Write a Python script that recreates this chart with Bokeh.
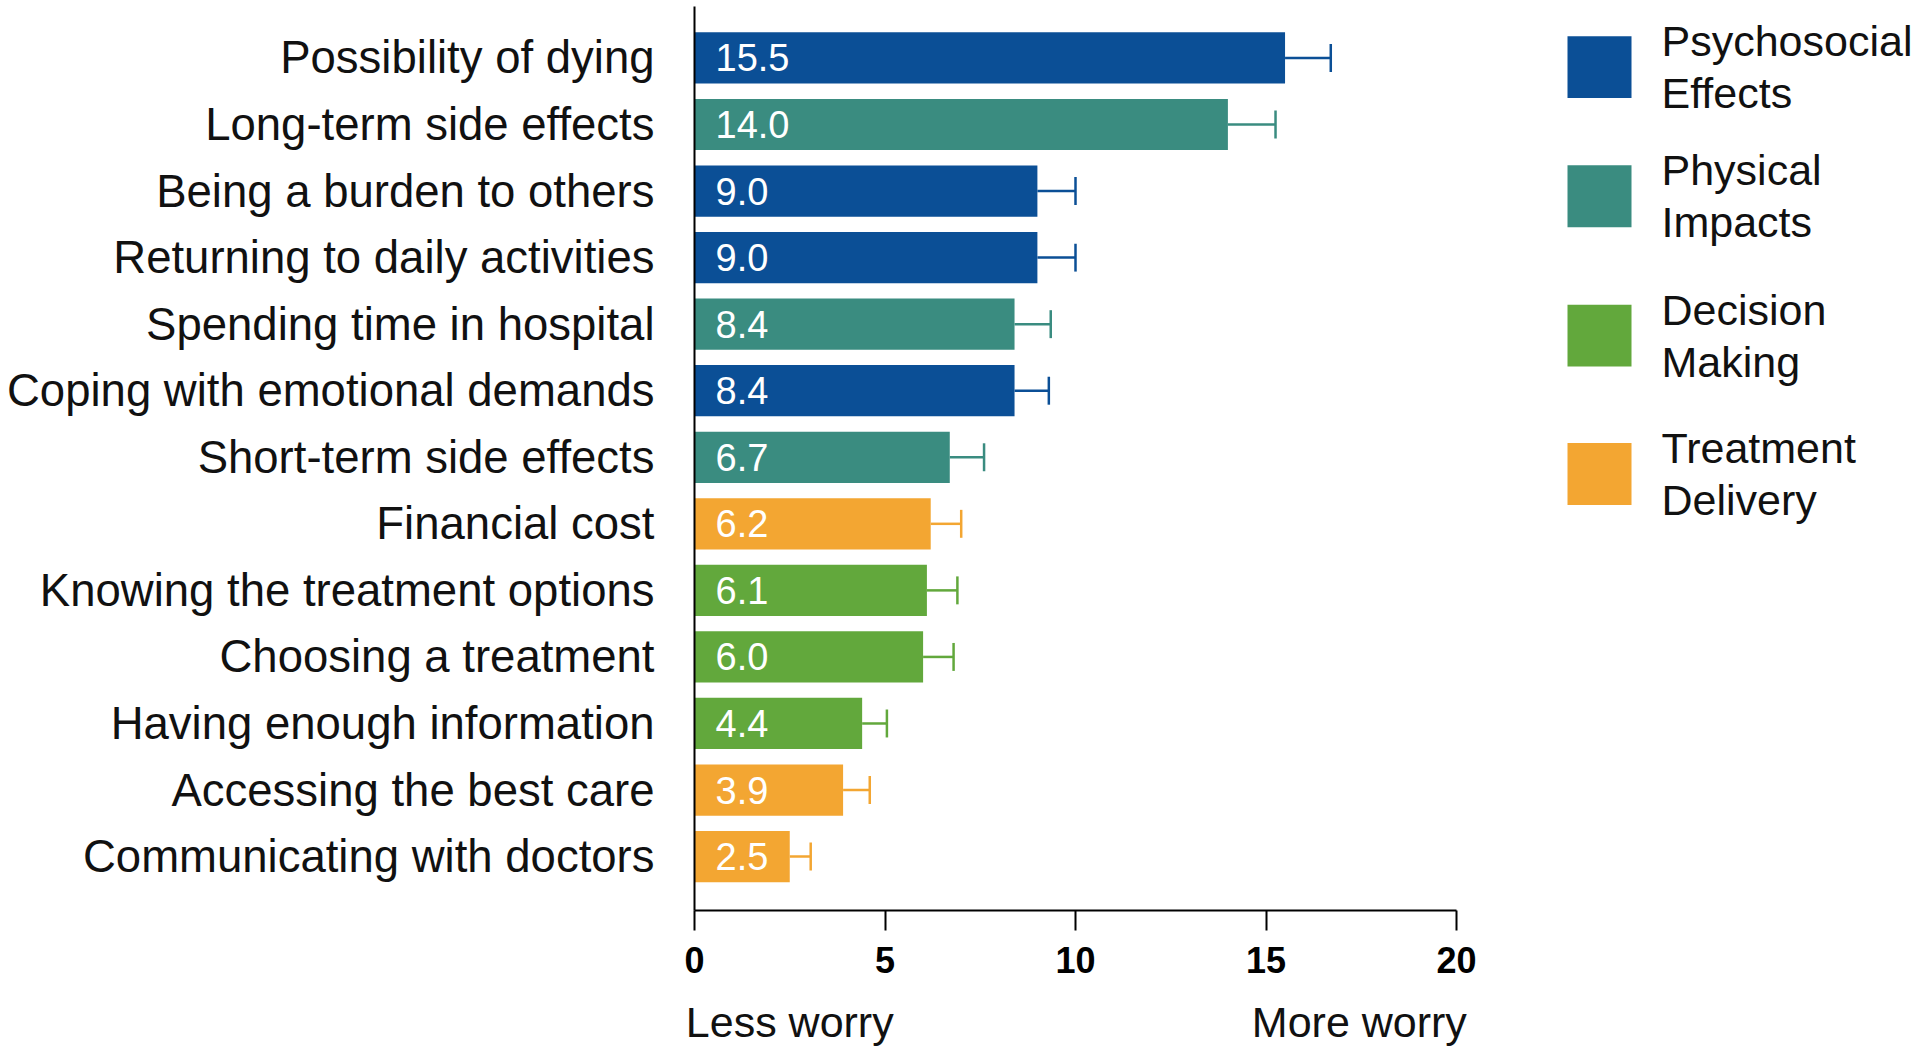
from bokeh.plotting import figure
from bokeh.models import Range1d, FixedTicker, LinearAxis, ColumnDataSource
from bokeh.layouts import row
from bokeh.embed import file_html
from bokeh.resources import INLINE
from bokeh.core.properties import value

categories = [
    "Possibility of dying", "Long-term side effects", "Being a burden to others",
    "Returning to daily activities", "Spending time in hospital",
    "Coping with emotional demands", "Short-term side effects", "Financial cost",
    "Knowing the treatment options", "Choosing a treatment",
    "Having enough information", "Accessing the best care", "Communicating with doctors",
]
values = [15.5, 14.0, 9.0, 9.0, 8.4, 8.4, 6.7, 6.2, 6.1, 6.0, 4.4, 3.9, 2.5]
errors = [1.2, 1.25, 1.0, 1.0, 0.95, 0.9, 0.9, 0.8, 0.8, 0.8, 0.65, 0.7, 0.55]
cat_group = ["Psychosocial Effects", "Physical Impacts", "Psychosocial Effects",
             "Psychosocial Effects", "Physical Impacts", "Psychosocial Effects",
             "Physical Impacts", "Treatment Delivery", "Decision Making",
             "Decision Making", "Decision Making", "Treatment Delivery", "Treatment Delivery"]
groups = ["Psychosocial Effects", "Physical Impacts", "Decision Making", "Treatment Delivery"]
group_colors = ["#0b4f96", "#3a8c80", "#62a83c", "#f3a632"]
x_ticks = [0, 5, 10, 15, 20]
end_labels = ["Less worry", "More worry"]
end_label_pos = [2.5, 17.45]

FONT = "Liberation Sans"
cmap = dict(zip(groups, group_colors))
n = len(categories)
ys = list(range(n))
cols = [cmap[g] for g in cat_group]

src = ColumnDataSource(dict(
    y=ys, v=values, e=[v + e for v, e in zip(values, errors)],
    c=cols, lab=[f"{v:.1f}" for v in values], zero=[0] * n,
    ylo=[y - 0.21 for y in ys], yhi=[y + 0.21 for y in ys],
))

H = 1048
TOP, BOTTOM = 6, 911
p = figure(width=1480, height=H, output_backend="svg", toolbar_location=None,
           x_range=Range1d(0, 20), y_range=Range1d(n - 1 + 0.81, -0.773),
           min_border_left=694, min_border_right=24, min_border_top=TOP,
           min_border_bottom=H - BOTTOM)
p.outline_line_color = None
p.grid.grid_line_color = None

p.hbar(y="y", left=0, right="v", height=0.77, fill_color="c", line_color=None, source=src)
p.segment(x0="v", x1="e", y0="y", y1="y", line_color="c", line_width=2.5, source=src)
p.segment(x0="e", x1="e", y0="ylo", y1="yhi", line_color="c", line_width=2.5, source=src)
p.text(x="zero", y="y", text="lab", x_offset=21, text_color="white",
       text_font=value(FONT), text_font_size="38px", text_baseline="middle",
       text_align="left", source=src)

# x axis
xa = p.xaxis[0]
xa.ticker = FixedTicker(ticks=x_ticks)
xa.minor_tick_line_color = None
xa.major_tick_in = 0
xa.major_tick_out = 20
xa.major_tick_line_width = 2
xa.axis_line_width = 2
xa.axis_line_color = "black"
xa.major_tick_line_color = "black"
xa.major_label_text_font = FONT
xa.major_label_text_font_style = "bold"
xa.major_label_text_font_size = "36px"
xa.major_label_text_color = "black"
xa.major_label_standoff = 16

# second axis carrying the "Less worry" / "More worry" captions
xa2 = LinearAxis(ticker=FixedTicker(ticks=end_label_pos),
                 major_label_overrides={pos: t for pos, t in zip(end_label_pos, end_labels)})
xa2.axis_line_color = None
xa2.major_tick_line_color = None
xa2.minor_tick_line_color = None
xa2.major_label_text_font = FONT
xa2.major_label_text_font_size = "43px"
xa2.major_label_text_color = "#111111"
xa2.major_label_standoff = 16
p.add_layout(xa2, "below")

# y axis
ya = p.yaxis[0]
ya.ticker = FixedTicker(ticks=ys)
ya.major_label_overrides = {i: c for i, c in enumerate(categories)}
ya.minor_tick_line_color = None
ya.major_tick_line_color = None
ya.axis_line_width = 2
ya.axis_line_color = "black"
ya.major_label_text_font = FONT
ya.major_label_text_font_size = "45.5px"
ya.major_label_text_color = "#111111"
ya.major_label_standoff = 34

# legend figure (frame aligned with the main frame; y data = page pixels)
LW = 438
lg = figure(width=LW, height=H, output_backend="svg", toolbar_location=None,
            x_range=Range1d(0, LW), y_range=Range1d(BOTTOM, TOP),
            x_axis_location=None, y_axis_location=None,
            min_border_left=0, min_border_right=0,
            min_border_top=TOP, min_border_bottom=H - BOTTOM)
lg.grid.grid_line_color = None
lg.outline_line_color = None
leg_y = [66.7, 196, 335.5, 474]
lsrc = ColumnDataSource(dict(
    x=[119] * 4, y=leg_y, c=group_colors,
    tx=[181] * 4, y1=[y - 26 for y in leg_y], y2=[y + 26 for y in leg_y],
    l1=[g.split(" ")[0] for g in groups], l2=[g.split(" ")[1] for g in groups],
))
lg.rect(x="x", y="y", width=64, height=62, fill_color="c", line_color=None, source=lsrc)
lg.text(x="tx", y="y1", text="l1", text_font=value(FONT), text_font_size="43px",
        text_baseline="middle", text_color="#111111", source=lsrc)
lg.text(x="tx", y="y2", text="l2", text_font=value(FONT), text_font_size="43px",
        text_baseline="middle", text_color="#111111", source=lsrc)

layout = row(p, lg)
open("out.html", "w").write(file_html(layout, INLINE))
